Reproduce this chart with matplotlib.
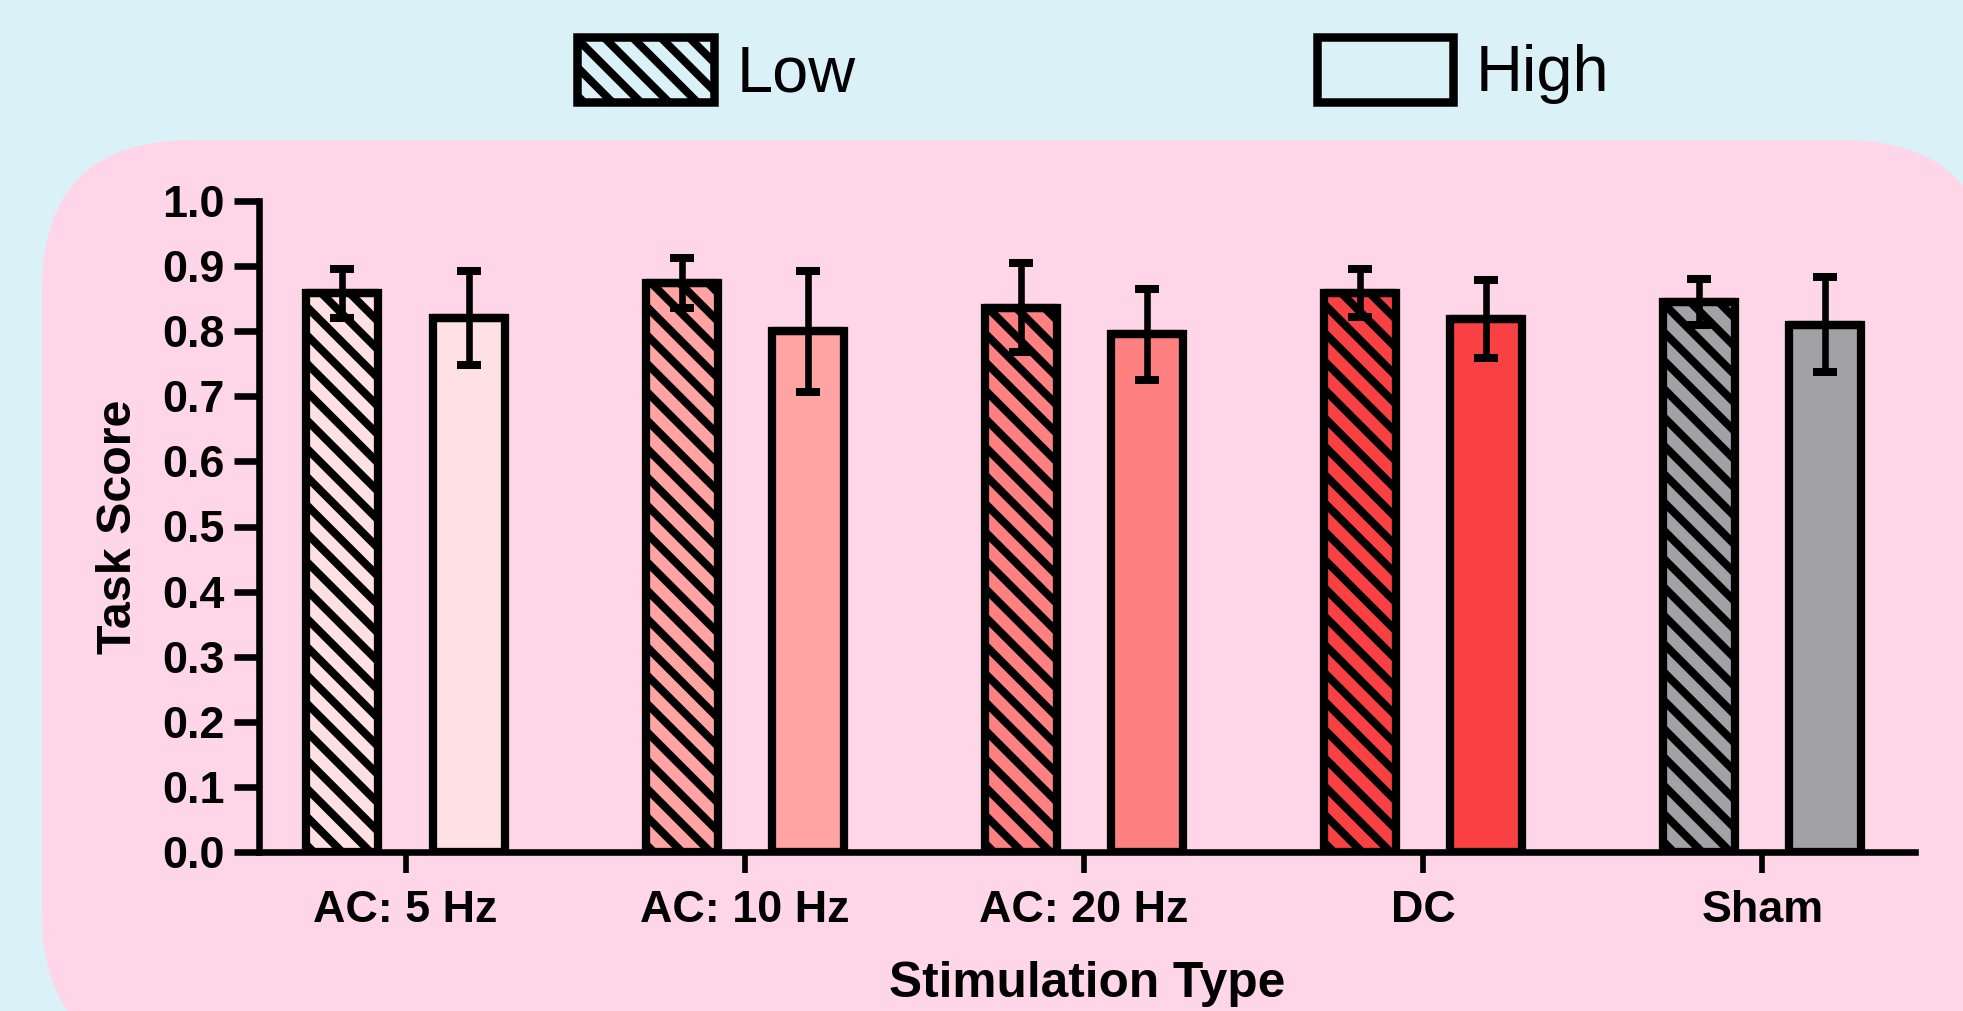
import matplotlib
matplotlib.use('Agg')
import matplotlib.pyplot as plt
from matplotlib.patches import FancyBboxPatch, Patch
import numpy as np

# data
categories = ['AC: 5 Hz', 'AC: 10 Hz', 'AC: 20 Hz', 'DC', 'Sham']
low_mean = [0.858, 0.874, 0.836, 0.859, 0.845]
low_err = [0.037, 0.038, 0.068, 0.037, 0.035]
high_mean = [0.820, 0.800, 0.795, 0.819, 0.810]
high_err = [0.072, 0.093, 0.070, 0.060, 0.073]
bar_colors = ['#FFE1E3', '#FFA3A3', '#FF8080', '#F94144', '#A2A1A6']
series_labels = ['Low', 'High']
y_ticks = [0.0, 0.1, 0.2, 0.3, 0.4, 0.5, 0.6, 0.7, 0.8, 0.9, 1.0]

BG_BLUE = '#DBF1F8'
BG_PINK = '#FFD6E7'
DPI = 170
W, H = 1963, 1011
HATCH = '\\' * 2

plt.rcParams['font.family'] = ['Liberation Sans', 'DejaVu Sans']
plt.rcParams['hatch.linewidth'] = 3.4
plt.rcParams['hatch.color'] = 'black'

fig = plt.figure(figsize=(W / DPI, H / DPI), dpi=DPI, facecolor=BG_BLUE)

# big rounded pink panel (coords in pixels -> inches)
px = lambda v: v / DPI
panel = FancyBboxPatch((px(42), px(H - 1063)), px(1951), px(923),
                       boxstyle='round,pad=0,rounding_size=%f' % px(150),
                       transform=fig.dpi_scale_trans, facecolor=BG_PINK,
                       edgecolor='none', zorder=0)
fig.add_artist(panel)

ax = fig.add_axes([259 / W, 1 - 852 / H, (1915 - 259) / W, (852 - 201) / H])
ax.set_facecolor('none')

x = np.arange(len(categories))
off = 0.186
width = 0.212
lw = 3.5

for i in range(len(categories)):
    for j, (means, errs, hatch) in enumerate([(low_mean, low_err, HATCH),
                                             (high_mean, high_err, '')]):
        xc = x[i] - off if j == 0 else x[i] + off
        v = means[i]
        ax.bar(xc, v, width=width, color=bar_colors[i], edgecolor='black',
               linewidth=lw, hatch=hatch, zorder=2)
        ax.plot([xc - width / 2, xc + width / 2], [v, v], color='black', lw=lw,
                solid_capstyle='round', zorder=3, clip_on=False)
        ax.errorbar(xc, v, yerr=errs[i], fmt='none', ecolor='black',
                    elinewidth=2.8, capsize=5, capthick=3.4, zorder=4, clip_on=False)

ax.set_xlim(-0.432, 4.45)
ax.set_ylim(0, 1.0)
ax.set_yticks(y_ticks)
ax.set_yticklabels(['%.1f' % t for t in y_ticks])
ax.set_xticks(x)
ax.set_xticklabels(categories)

for s in ['top', 'right']:
    ax.spines[s].set_visible(False)
for s in ['left', 'bottom']:
    ax.spines[s].set_linewidth(2.8)
ax.tick_params(axis='y', length=10.5, width=2.8, pad=4, labelsize=19)
ax.tick_params(axis='x', length=9, width=2.4, pad=7, labelsize=19)
for lab in ax.get_xticklabels() + ax.get_yticklabels():
    lab.set_fontweight('bold')

ax.set_ylabel('Task Score', fontsize=20.5, fontweight='bold', labelpad=9)
ax.set_xlabel('Stimulation Type', fontsize=21, fontweight='bold', labelpad=13)

handles = [Patch(facecolor='none', edgecolor='black', hatch=HATCH, linewidth=3.6,
                 joinstyle='round'),
           Patch(facecolor='none', edgecolor='black', linewidth=3.6, joinstyle='round')]
fig.legend(handles, series_labels, loc='center', bbox_to_anchor=(0.557, 0.93),
           ncol=2, frameon=False, fontsize=27.5, handlelength=2.1,
           handleheight=1.15, handletextpad=0.35, columnspacing=7.1)

fig.savefig('out.png', dpi=DPI, facecolor=BG_BLUE)
